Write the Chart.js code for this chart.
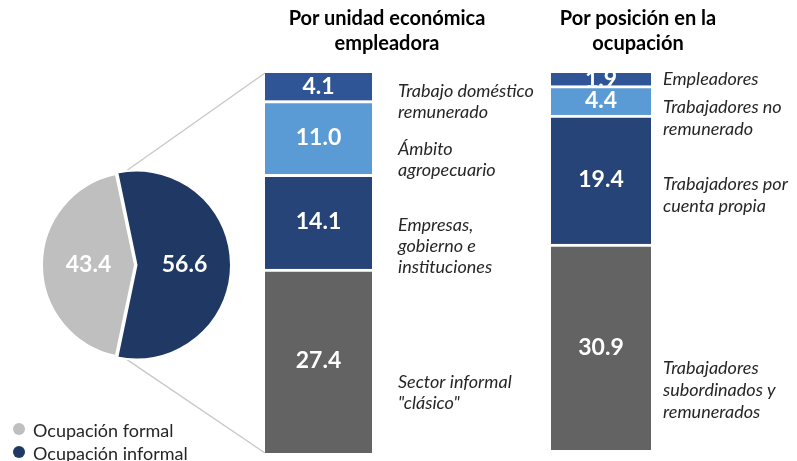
<!DOCTYPE html>
<html lang="es">
<head>
<meta charset="UTF-8">
<title>Ocupación informal</title>
<script src="https://cdn.jsdelivr.net/npm/chart.js@4.4.8/dist/chart.umd.min.js"></script>
<style>
  body { margin: 0; background: #fff; width: 797px; height: 461px; overflow: hidden; position: relative; font-family: Lato, sans-serif; }
  canvas { position: absolute; }
  .titulo { position: absolute; top: 5px; width: 240px; text-align: center; font-weight: bold; font-size: 20px; line-height: 25px; color: #000; }
  #leyenda { position: absolute; left: 13px; top: 419px; font-size: 18px; line-height: 23px; color: #262626; }
  #leyenda div { display: flex; align-items: center; white-space: nowrap; }
  #leyenda span { display: inline-block; width: 12px; height: 12px; border-radius: 50%; margin-right: 8px; margin-top: -4px; }
</style>
</head>
<body>
<canvas id="conectores" width="797" height="461" style="left:0;top:0"></canvas>
<canvas id="pastel" width="194" height="194" style="left:38px;top:168px"></canvas>
<canvas id="unidad" width="318" height="461" style="left:231px;top:0"></canvas>
<canvas id="posicion" width="318" height="461" style="left:479px;top:0"></canvas>
<div class="titulo" style="left:267px">Por unidad económica<br>empleadora</div>
<div class="titulo" style="left:518px">Por posición en la<br>ocupación</div>
<div id="leyenda"></div>
<script>
// Datos
const ocupacion = ['Ocupación formal', 'Ocupación informal'];
const ocupacionValores = [43.4, 56.6];
const ocupacionColores = ['#BFBFBF', '#1F3864'];

// de arriba hacia abajo
const unidadCategorias = [['Trabajo doméstico', 'remunerado'], ['Ámbito', 'agropecuario'], ['Empresas,', 'gobierno e', 'instituciones'], ['Sector informal', '"clásico"']];
const unidadValores = [4.1, 11.0, 14.1, 27.4];
const unidadColores = ['#2F5597', '#5B9BD5', '#264478', '#636363'];

const posicionCategorias = [['Empleadores'], ['Trabajadores no', 'remunerado'], ['Trabajadores por', 'cuenta propia'], ['Trabajadores', 'subordinados y', 'remunerados']];
const posicionValores = [1.9, 4.4, 19.4, 30.9];
const posicionColores = ['#2F5597', '#5B9BD5', '#264478', '#636363'];

// desplazamiento vertical de las etiquetas laterales (px)
const unidadDesplaz = [15, 22, 24, 32];
const posicionDesplaz = [0, 18, 16, 43];

// numeros blancos dentro de cada segmento / rebanada
const valoresDentro = {
  id: 'valoresDentro',
  afterDatasetsDraw(chart) {
    const ctx = chart.ctx;
    chart.data.datasets.forEach((ds, i) => {
      const meta = chart.getDatasetMeta(i);
      meta.data.forEach((el, j) => {
        const c = el.getCenterPoint(true);
        ctx.save();
        if (meta.type === 'bar') {
          const p = el.getProps(['x', 'y', 'base', 'width'], true);
          const borde = typeof ds.borderWidth === 'object' ? ds.borderWidth.top : 0;
          ctx.beginPath();
          ctx.rect(p.x - p.width / 2, Math.min(p.y, p.base) + borde, p.width, Math.abs(p.base - p.y) - borde);
          ctx.clip();
        }
        ctx.font = 'bold 23px Lato';
        ctx.fillStyle = '#fff';
        ctx.textAlign = 'center';
        ctx.textBaseline = 'middle';
        ctx.fillText(ds.data[j].toFixed(1), c.x, c.y);
        ctx.restore();
      });
    });
  }
};

// nombres en cursiva a la derecha de la barra
const etiquetasLado = {
  id: 'etiquetasLado',
  afterDatasetsDraw(chart, args, opts) {
    const ctx = chart.ctx;
    ctx.save();
    ctx.font = 'italic 18px Lato';
    ctx.fillStyle = '#262626';
    ctx.textAlign = 'left';
    ctx.textBaseline = 'middle';
    chart.data.datasets.forEach((ds, i) => {
      const el = chart.getDatasetMeta(i).data[0];
      const c = el.getCenterPoint(true);
      const y0 = c.y + ds.desplaz - (ds.lineas.length - 1) * opts.interlineado / 2;
      ds.lineas.forEach((t, k) => {
        ctx.fillText(t, chart.chartArea.right + opts.separacion, y0 + k * opts.interlineado);
      });
    });
    ctx.restore();
  }
};

const pastel = new Chart(document.getElementById('pastel'), {
  type: 'pie',
  data: {
    labels: ocupacion,
    datasets: [{
      data: ocupacionValores,
      backgroundColor: ocupacionColores,
      borderColor: '#fff',
      borderWidth: 2,
      offset: [0, 6],
      hoverOffset: 0
    }]
  },
  options: {
    responsive: false,
    animation: false,
    // la parte formal centrada hacia la izquierda
    rotation: 270 - ocupacionValores[0] / 100 * 180,
    plugins: { legend: { display: false }, tooltip: { enabled: false } }
  },
  plugins: [valoresDentro]
});

function crearBarra(id, categorias, valores, colores, desplaz, padding, separacion, interlineado) {
  const total = valores.reduce((a, b) => a + b, 0);
  const datasets = valores.map((v, i) => ({
    label: categorias[i].join(' '),
    data: [v],
    backgroundColor: colores[i],
    borderColor: '#fff',
    borderWidth: i === 0 ? 0 : { top: 3, right: 0, bottom: 0, left: 0 },
    borderSkipped: false,
    barPercentage: 1,
    categoryPercentage: 1,
    lineas: categorias[i],
    desplaz: desplaz[i]
  })).reverse();
  return new Chart(document.getElementById(id), {
    type: 'bar',
    data: { labels: [''], datasets: datasets },
    options: {
      responsive: false,
      animation: false,
      layout: { padding: padding },
      scales: {
        x: { display: false, stacked: true },
        y: { display: false, stacked: true, min: 0, max: total }
      },
      plugins: {
        legend: { display: false },
        tooltip: { enabled: false },
        etiquetasLado: { separacion: separacion, interlineado: interlineado }
      }
    },
    plugins: [valoresDentro, etiquetasLado]
  });
}

const unidad = crearBarra('unidad', unidadCategorias, unidadValores, unidadColores, unidadDesplaz,
  { left: 34, right: 177, top: 73, bottom: 8 }, 26, 21);
const posicion = crearBarra('posicion', posicionCategorias, posicionValores, posicionColores, posicionDesplaz,
  { left: 72, right: 146, top: 73, bottom: 11 }, 12, 22);

// leyenda
const leyenda = document.getElementById('leyenda');
ocupacion.forEach((t, i) => {
  const fila = document.createElement('div');
  fila.innerHTML = '<span style="background:' + ocupacionColores[i] + '"></span>' + t;
  leyenda.appendChild(fila);
});

// lineas que unen la rebanada informal con la primera barra
(function () {
  const cv = document.getElementById('conectores');
  const ctx = cv.getContext('2d');
  const pc = pastel.canvas, uc = unidad.canvas;
  const arco = pastel.getDatasetMeta(0).data[1];
  const a = arco.getProps(['x', 'y', 'startAngle', 'endAngle', 'outerRadius'], true);
  const off = arco.options.offset;
  const mid = (a.startAngle + a.endAngle) / 2;
  const cx = pc.offsetLeft + a.x + Math.cos(mid) * off;
  const cy = pc.offsetTop + a.y + Math.sin(mid) * off;
  const arriba = unidad.getDatasetMeta(unidad.data.datasets.length - 1).data[0].getProps(['x', 'y', 'width'], true);
  const abajo = unidad.getDatasetMeta(0).data[0].getProps(['x', 'base', 'width'], true);
  ctx.strokeStyle = '#C9C9C9';
  ctx.lineWidth = 1.5;
  ctx.beginPath();
  ctx.moveTo(cx + Math.cos(a.startAngle) * a.outerRadius, cy + Math.sin(a.startAngle) * a.outerRadius);
  ctx.lineTo(uc.offsetLeft + arriba.x - arriba.width / 2, uc.offsetTop + arriba.y);
  ctx.moveTo(cx + Math.cos(a.endAngle) * a.outerRadius, cy + Math.sin(a.endAngle) * a.outerRadius);
  ctx.lineTo(uc.offsetLeft + abajo.x - abajo.width / 2, uc.offsetTop + abajo.base);
  ctx.stroke();
})();
</script>
</body>
</html>
